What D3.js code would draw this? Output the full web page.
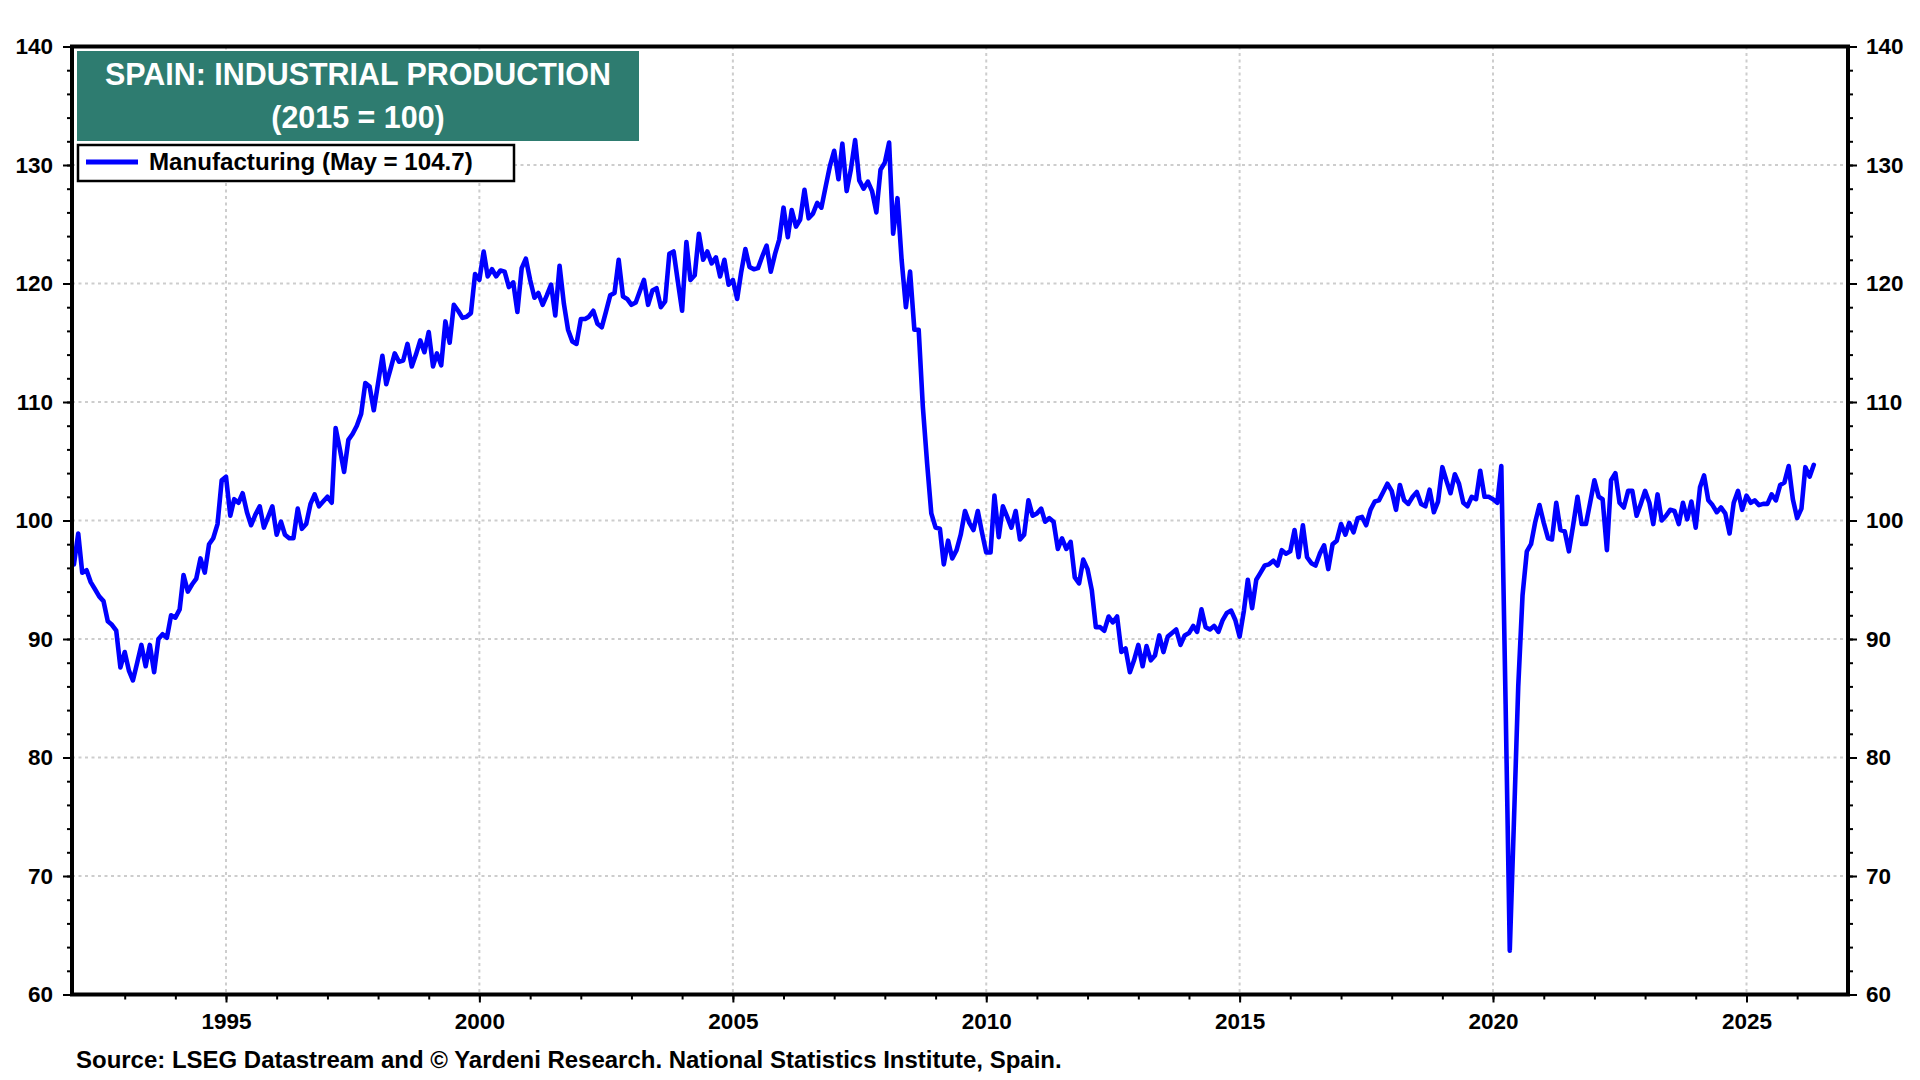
<!DOCTYPE html>
<html>
<head>
<meta charset="utf-8">
<script src="https://cdn.jsdelivr.net/npm/d3@7"></script>
<style>
  html, body { margin: 0; padding: 0; background: #fff; }
  svg { display: block; font-family: "Liberation Sans", Arial, sans-serif; font-weight: bold; }
</style>
</head>
<body>
<svg id="chart" width="1920" height="1080"></svg>
<script>
// Spain manufacturing production index (2015 = 100), monthly from Jan 1992
const mfg1990s = [
  96.3, 98.9, 95.6, 95.8, 94.8, 94.2, 93.6, 93.2, 91.5, 91.2, 90.7, 87.6,
  88.9, 87.3, 86.5, 88.0, 89.5, 87.7, 89.5, 87.2, 90.0, 90.4, 90.1, 92.0,
  91.8, 92.5, 95.4, 94.0, 94.6, 95.1, 96.8, 95.6, 98.0, 98.5, 99.7, 103.4,
  103.7, 100.4, 101.8, 101.5, 102.3, 100.7, 99.6, 100.5, 101.2, 99.4, 100.3, 101.2,
  98.8, 99.9, 98.8, 98.5, 98.5, 101.0, 99.3, 99.7, 101.4, 102.2, 101.2, 101.6,
  102.0, 101.5, 107.8, 106.0, 104.1, 106.8, 107.3, 108.0, 109.0, 111.6, 111.3, 109.3,
  111.6, 113.9, 111.5, 112.8, 114.1, 113.4, 113.5, 114.9, 113.0, 114.0, 115.2, 114.2,
  115.9, 113.0, 114.1, 113.1, 116.8, 115.0, 118.2, 117.7, 117.1, 117.2, 117.5, 120.8
];
const mfg2000s = [
  120.3, 122.7, 120.6, 121.2, 120.6, 121.1, 121.0, 119.7, 120.1, 117.6, 121.3, 122.1,
  120.3, 118.8, 119.2, 118.2, 119.0, 119.9, 117.3, 121.5, 118.3, 116.1, 115.1, 114.9,
  117.0, 117.0, 117.2, 117.7, 116.6, 116.3, 117.6, 119.0, 119.2, 122.0, 118.9, 118.7,
  118.2, 118.4, 119.3, 120.3, 118.2, 119.4, 119.6, 118.0, 118.5, 122.5, 122.7, 120.2,
  117.7, 123.5, 120.3, 120.7, 124.2, 122.0, 122.7, 121.7, 122.2, 120.6, 122.0, 119.9,
  120.3, 118.7, 120.9, 122.9, 121.4, 121.2, 121.3, 122.3, 123.2, 121.0, 122.5, 123.7,
  126.4, 123.9, 126.2, 124.8, 125.4, 127.9, 125.5, 125.9, 126.8, 126.4, 128.2, 129.9,
  131.2, 128.8, 131.8, 127.8, 129.6, 132.1, 128.7, 128.0, 128.6, 127.8, 126.0, 129.6,
  130.2, 131.9, 124.2, 127.2, 122.0, 118.0, 121.0, 116.1, 116.1, 109.6, 104.8, 100.6,
  99.4, 99.3, 96.3, 98.3, 96.8, 97.5, 98.8, 100.8, 99.8, 99.2, 100.8, 99.0
];
const mfg2010s = [
  97.3, 97.3, 102.1, 98.6, 101.2, 100.3, 99.4, 100.8, 98.4, 98.8, 101.7, 100.4,
  100.6, 101.0, 99.9, 100.2, 99.9, 97.6, 98.5, 97.6, 98.2, 95.2, 94.7, 96.7,
  95.9, 94.1, 91.0, 91.0, 90.7, 91.9, 91.4, 91.9, 88.9, 89.2, 87.2, 88.2,
  89.5, 87.7, 89.4, 88.2, 88.6, 90.3, 88.9, 90.2, 90.5, 90.8, 89.5, 90.3,
  90.5, 91.1, 90.6, 92.5, 91.0, 90.8, 91.1, 90.6, 91.6, 92.2, 92.4, 91.6,
  90.2, 92.4, 95.0, 92.6, 95.0, 95.6, 96.2, 96.3, 96.6, 96.2, 97.5, 97.2,
  97.4, 99.2, 96.9, 99.6, 96.9, 96.4, 96.2, 97.2, 97.9, 95.9, 98.0, 98.3,
  99.7, 98.8, 99.8, 99.0, 100.2, 100.3, 99.6, 100.9, 101.6, 101.7, 102.4, 103.1,
  102.5, 100.9, 103.0, 101.7, 101.4, 102.0, 102.4, 101.4, 101.2, 102.6, 100.7, 101.6,
  104.5, 103.3, 102.3, 103.9, 103.1, 101.5, 101.2, 102.0, 101.8, 104.2, 102.0, 102.0
];
const mfg2020s = [
  101.8, 101.5, 104.6, 84.5, 63.7, 75.0, 86.0, 93.7, 97.4, 98.0, 99.9, 101.3,
  99.8, 98.5, 98.4, 101.5, 99.2, 99.1, 97.4, 99.6, 102.0, 99.7, 99.7, 101.5,
  103.4, 102.0, 101.8, 97.5, 103.4, 104.0, 101.5, 101.1, 102.5, 102.5, 100.4, 101.4,
  102.5, 101.5, 99.7, 102.2, 100.0, 100.4, 100.9, 100.8, 99.7, 101.5, 100.1, 101.6,
  99.4, 102.8, 103.8, 101.7, 101.3, 100.7, 101.1, 100.6, 98.9, 101.5, 102.5, 100.9,
  102.1, 101.5, 101.7, 101.3, 101.4, 101.4, 102.2, 101.7, 103.0, 103.2, 104.6, 101.8,
  100.2, 101.0, 104.5, 103.7, 104.7
];

const yTicks = [60, 70, 80, 90, 100, 110, 120, 130, 140];
const yGrid = [70, 80, 90, 100, 110, 120, 130];
const xLabelYears = [1995, 2000, 2005, 2010, 2015, 2020, 2025];

const titleLines = ['SPAIN: INDUSTRIAL PRODUCTION', '(2015 = 100)'];
const legendLabel = 'Manufacturing (May = 104.7)';
const sourceText = 'Source: LSEG Datastream and \u00A9 Yardeni Research. National Statistics Institute, Spain.';

const values = [].concat(mfg1990s, mfg2000s, mfg2010s, mfg2020s);
const series = values.map((v, i) => ({ date: new Date(1992, i, 1), value: v }));

const svg = d3.select('#chart');
const plot = { left: 72, right: 1848, top: 46.5, bottom: 994.5 };

// 1995 and 2025 gridlines sit at 226 and 1746.5
const x = d3.scaleTime()
  .domain([new Date(1995, 0, 1), new Date(2025, 0, 1)])
  .range([226, 1746.5]);
const y = d3.scaleLinear().domain([60, 140]).range([plot.bottom, plot.top]);

// make a text fit a measured width by adjusting its font size
function fitWidth(sel, target) {
  const w = sel.node().getComputedTextLength();
  const fs = parseFloat(sel.attr('font-size'));
  sel.attr('font-size', (fs * target / w).toFixed(2));
}

// grid
const grid = svg.append('g').attr('class', 'grid')
  .attr('stroke', '#cdcdcd').attr('stroke-width', 2).attr('stroke-dasharray', '3,3.5');
grid.selectAll('line.h').data(yGrid).join('line').attr('class', 'h')
  .attr('x1', plot.left).attr('x2', plot.right)
  .attr('y1', (d) => y(d)).attr('y2', (d) => y(d));
grid.selectAll('line.v').data(xLabelYears).join('line').attr('class', 'v')
  .attr('x1', (d) => x(new Date(d, 0, 1))).attr('x2', (d) => x(new Date(d, 0, 1)))
  .attr('y1', plot.top).attr('y2', plot.bottom);

// series
svg.append('defs').append('clipPath').attr('id', 'clip')
  .append('rect')
  .attr('x', plot.left).attr('y', plot.top)
  .attr('width', plot.right - plot.left).attr('height', plot.bottom - plot.top);

const line = d3.line().x((d) => x(d.date)).y((d) => y(d.value));
svg.append('path')
  .datum(series)
  .attr('clip-path', 'url(#clip)')
  .attr('fill', 'none')
  .attr('stroke', '#0000ff')
  .attr('stroke-width', 4.6)
  .attr('stroke-linejoin', 'round')
  .attr('stroke-linecap', 'round')
  .attr('d', line);

// axes
const minorY = d3.range(60, 141, 2);
const years = d3.range(1993, 2027).map((yr) => new Date(yr, 0, 1));
const majorDates = xLabelYears.map((yr) => new Date(yr, 0, 1));

function styleAxis(g) {
  g.select('.domain').remove();
  g.selectAll('line').attr('stroke', '#000').attr('stroke-width', 2);
  g.selectAll('text').attr('fill', '#000').attr('font-size', 22.5).attr('font-weight', 'bold')
    .attr('font-family', '"Liberation Sans", Arial, sans-serif');
}

svg.append('g').attr('transform', `translate(${plot.left},0)`)
  .call(d3.axisLeft(y).tickValues(minorY).tickSize(5).tickFormat(''))
  .call(styleAxis);
svg.append('g').attr('transform', `translate(${plot.left},0)`)
  .call(d3.axisLeft(y).tickValues(yTicks).tickSize(9).tickPadding(10))
  .call(styleAxis);

svg.append('g').attr('transform', `translate(${plot.right},0)`)
  .call(d3.axisRight(y).tickValues(minorY).tickSize(5).tickFormat(''))
  .call(styleAxis);
svg.append('g').attr('transform', `translate(${plot.right},0)`)
  .call(d3.axisRight(y).tickValues(yTicks).tickSize(9).tickPadding(9))
  .call(styleAxis);

svg.append('g').attr('transform', `translate(0,${plot.bottom})`)
  .call(d3.axisBottom(x).tickValues(years).tickSize(5).tickFormat(''))
  .call(styleAxis);
svg.append('g').attr('transform', `translate(0,${plot.bottom})`)
  .call(d3.axisBottom(x).tickValues(majorDates).tickSize(8).tickPadding(11).tickFormat(d3.timeFormat('%Y')))
  .call(styleAxis);

// frame
svg.append('rect')
  .attr('x', plot.left).attr('y', plot.top)
  .attr('width', plot.right - plot.left).attr('height', plot.bottom - plot.top)
  .attr('fill', 'none').attr('stroke', '#000').attr('stroke-width', 4);

// title box
svg.append('rect')
  .attr('x', 77).attr('y', 51).attr('width', 562).attr('height', 90)
  .attr('fill', '#2e7c70');
const t1 = svg.append('text')
  .attr('x', 358).attr('y', 85).attr('text-anchor', 'middle')
  .attr('fill', '#fff').attr('font-size', 29).text(titleLines[0]);
fitWidth(t1, 506);
const t2 = svg.append('text')
  .attr('x', 358).attr('y', 128).attr('text-anchor', 'middle')
  .attr('fill', '#fff').attr('font-size', 29).text(titleLines[1]);
t2.attr('font-size', t1.attr('font-size'));

// legend
svg.append('rect')
  .attr('x', 78).attr('y', 145).attr('width', 436).attr('height', 36)
  .attr('fill', '#fff').attr('stroke', '#000').attr('stroke-width', 2.5);
svg.append('line')
  .attr('x1', 86).attr('x2', 138).attr('y1', 162).attr('y2', 162)
  .attr('stroke', '#0000ff').attr('stroke-width', 5);
const lg = svg.append('text')
  .attr('x', 149).attr('y', 170).attr('fill', '#000').attr('font-size', 23).text(legendLabel);
fitWidth(lg, 324);

// source
const src = svg.append('text')
  .attr('x', 76).attr('y', 1068).attr('fill', '#000').attr('font-size', 21).text(sourceText);
fitWidth(src, 986);
</script>
</body>
</html>
